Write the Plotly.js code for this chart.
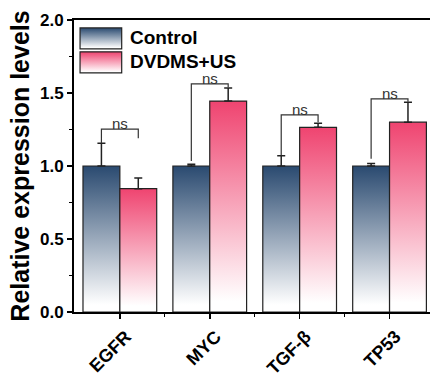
<!DOCTYPE html>
<html>
<head>
<meta charset="utf-8">
<script src="https://cdn.plot.ly/plotly-3.0.1.min.js"></script>
<style>
html,body{margin:0;padding:0;background:#fff;overflow:hidden;}
#chart{width:430px;height:373px;}
</style>
</head>
<body>
<svg width="0" height="0" style="position:absolute">
  <defs>
    <linearGradient id="gradCtrl" x1="0" y1="0" x2="0" y2="1">
      <stop offset="0" stop-color="#2a4a70"/>
      <stop offset="0.95" stop-color="#ffffff"/>
    </linearGradient>
    <linearGradient id="gradDvd" x1="0" y1="0" x2="0" y2="1">
      <stop offset="0" stop-color="#ef4470"/>
      <stop offset="0.95" stop-color="#ffffff"/>
    </linearGradient>
  </defs>
</svg>
<div id="chart"></div>
<script>
// ---- data ----
const categories = ["EGFR", "MYC", "TGF-β", "TP53"];
const seriesNames = ["Control", "DVDMS+US"];
const controlValues = [1.0, 1.0, 1.0, 1.0];
const controlErr = [0.155, 0.012, 0.07, 0.017];
const dvdmsValues = [0.845, 1.445, 1.265, 1.30];
const dvdmsErr = [0.073, 0.09, 0.028, 0.137];
// significance brackets (value units)
const sigLabels = ["ns", "ns", "ns", "ns"];
const bracketTop = [1.253, 1.563, 1.35, 1.46];
const bracketLeftEnd = [1.157, 1.035, 1.074, 1.05];
const bracketRightEnd = [1.19, 1.54, 1.30, 1.44];
const yTickVals = [0, 0.5, 1.0, 1.5, 2.0];

const FONT = "'Liberation Sans', Arial, sans-serif";
const xIdx = categories.map((c, i) => i);
const half = 0.205;

const traces = [
  {
    type: "bar", name: seriesNames[0], x: xIdx, y: controlValues,
    marker: {color: "#2a4a70", line: {color: "#222", width: 1.2}},
    error_y: {type: "data", symmetric: false, array: controlErr, arrayminus: controlErr.map(() => 0),
      color: "#222", thickness: 1.5, width: 4}
  },
  {
    type: "bar", name: seriesNames[1], x: xIdx, y: dvdmsValues,
    marker: {color: "#ef4470", line: {color: "#222", width: 1.2}},
    error_y: {type: "data", symmetric: false, array: dvdmsErr, arrayminus: dvdmsErr.map(() => 0),
      color: "#222", thickness: 1.5, width: 4}
  }
];

const shapes = [
  {type: "rect", xref: "paper", yref: "paper", x0: 0.017, x1: 0.134, y0: 0.901, y1: 0.973,
   line: {color: "#222", width: 1.2}, fillcolor: "#2a4a70", layer: "above"},
  {type: "rect", xref: "paper", yref: "paper", x0: 0.017, x1: 0.134, y0: 0.819, y1: 0.891,
   line: {color: "#222", width: 1.2}, fillcolor: "#ef4470", layer: "above"}
];
const annotations = [
  {xref: "paper", yref: "paper", x: 0.152, y: 0.939, xanchor: "left", yanchor: "middle",
   text: seriesNames[0], showarrow: false, font: {family: FONT, size: 19, color: "#000", weight: "bold"}},
  {xref: "paper", yref: "paper", x: 0.152, y: 0.859, xanchor: "left", yanchor: "middle",
   text: seriesNames[1], showarrow: false, font: {family: FONT, size: 19, color: "#000", weight: "bold"}}
];
categories.forEach((c, i) => {
  const xl = i - half, xr = i + half;
  shapes.push({
    type: "path", xref: "x", yref: "y",
    path: `M ${xl},${bracketLeftEnd[i]} L ${xl},${bracketTop[i]} L ${xr},${bracketTop[i]} L ${xr},${bracketRightEnd[i]}`,
    line: {color: "#333", width: 1.2}
  });
  annotations.push({
    xref: "x", yref: "y", x: i, y: bracketTop[i], yanchor: "bottom", yshift: -5,
    text: sigLabels[i], showarrow: false, font: {family: FONT, size: 15, color: "#333"}
  });
});

const layout = {
  width: 430, height: 373,
  margin: {l: 74, r: 0, t: 20, b: 61},
  paper_bgcolor: "#fff", plot_bgcolor: "#fff",
  barmode: "group", bargap: 0.18, bargroupgap: 0,
  showlegend: false,
  font: {family: FONT, color: "#000"},
  xaxis: {
    range: [-0.51, 3.45], tickmode: "array", tickvals: xIdx, ticktext: categories,
    tickangle: -45, ticks: "outside", ticklen: 5, tickwidth: 1.5, tickcolor: "#000",
    ticklabelstandoff: 0, ticklabelshift: 6,
    showline: true, linecolor: "#000", linewidth: 2, mirror: true,
    showgrid: false, zeroline: false,
    tickfont: {family: FONT, size: 18, color: "#000", weight: "bold"},
    minor: {tickmode: "array", tickvals: [0.5, 1.5, 2.5], ticks: "outside", ticklen: 3, tickwidth: 1.2, tickcolor: "#000", showgrid: false}
  },
  yaxis: {
    range: [0, 2], tickmode: "array", tickvals: yTickVals, tickformat: ".1f",
    ticks: "outside", ticklen: 5, tickwidth: 1.5, tickcolor: "#000",
    showline: true, linecolor: "#000", linewidth: 2, mirror: false,
    showgrid: false, zeroline: false,
    tickfont: {family: FONT, size: 17, color: "#000", weight: "bold"},
    minor: {dtick: 0.25, ticks: "outside", ticklen: 3, tickwidth: 1.2, tickcolor: "#000", showgrid: false},
    title: {text: "Relative expression levels", standoff: 3,
      font: {family: FONT, size: 25, color: "#000", weight: "bold"}}
  },
  shapes: shapes,
  annotations: annotations
};

Plotly.newPlot("chart", traces, layout, {staticPlot: true, displayModeBar: false}).then(function(gd) {
  const grads = ["url(#gradCtrl)", "url(#gradDvd)"];
  gd.querySelectorAll(".barlayer .trace").forEach(function(tr, ti) {
    tr.querySelectorAll(".point path").forEach(function(p) { p.style.fill = grads[ti]; });
  });
  const sp = gd.querySelectorAll(".layer-above .shapelayer path");
  sp.forEach(function(p) {
    const di = p.getAttribute("data-index");
    if (di === "0") p.style.fill = grads[0];
    if (di === "1") p.style.fill = grads[1];
  });
});
</script>
</body>
</html>
